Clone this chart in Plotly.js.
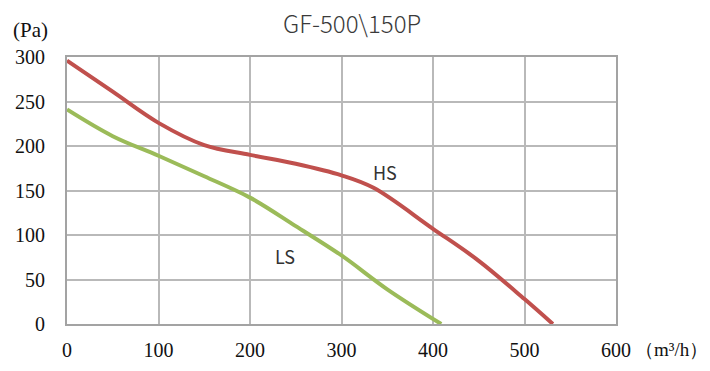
<!DOCTYPE html>
<html><head><meta charset="utf-8">
<script src="https://cdn.plot.ly/plotly-3.0.1.min.js"></script>
<style>html,body{margin:0;padding:0;background:#fff}#c{width:710px;height:371px}</style>
</head><body><div id="c"></div>
<script>
const hsX = [0, 50, 100, 150, 200, 250, 300, 335, 400, 450, 500, 531];
const hsY = [296, 261, 226, 201, 190, 180, 167, 153, 107, 71, 28, 0];
const lsX = [0, 50, 100, 150, 200, 250, 300, 350, 409];
const lsY = [241, 211, 189, 166, 142, 110, 77, 39, 0];
const xTicks = [0, 100, 200, 300, 400, 500, 600];
const yTicks = [0, 50, 100, 150, 200, 250, 300];

const serif = "Times New Roman, Liberation Serif, Tinos, DejaVu Serif, serif";
const sans = "Noto Sans CJK SC, Noto Sans, sans-serif";
const data = [
  {x: hsX, y: hsY, mode: 'lines', line: {color: '#c0504d', width: 4, shape: 'spline', smoothing: 1}, name: 'HS'},
  {x: lsX, y: lsY, mode: 'lines', line: {color: '#9bbb59', width: 4, shape: 'spline', smoothing: 1}, name: 'LS'}
];
const layout = {
  width: 710, height: 371,
  margin: {l: 67, r: 94, t: 57, b: 47},
  showlegend: false,
  paper_bgcolor: '#fff', plot_bgcolor: '#fff',
  title: {text: 'GF-500\\150P', x: 0.496, xanchor: 'center', y: 0.935, yanchor: 'middle',
          font: {family: sans, size: 24, weight: 300, color: '#3a3a3a'}},
  xaxis: {range: [0, 600], tickvals: xTicks, ticktext: xTicks.map(String), showgrid: true,
          gridcolor: '#b9b9b9', gridwidth: 2, zeroline: false, showline: true, linecolor: '#a3a3a3', linewidth: 2,
          mirror: true, ticks: '', tickfont: {family: serif, size: 20, color: '#111'}, ticklabelstandoff: 7},
  yaxis: {range: [0, 300], tickvals: yTicks, ticktext: yTicks.map(String), showgrid: true,
          gridcolor: '#b9b9b9', gridwidth: 2, zeroline: false, showline: true, linecolor: '#a3a3a3', linewidth: 2,
          mirror: true, ticks: '', tickfont: {family: serif, size: 20, color: '#111'}, ticklabelstandoff: 16},
  annotations: [
    {text: 'HS', x: 348, y: 171, xref: 'x', yref: 'y', showarrow: false, xanchor: 'center', yanchor: 'middle',
     font: {family: sans, size: 18, color: '#333'}},
    {text: 'LS', x: 238, y: 76, xref: 'x', yref: 'y', showarrow: false, xanchor: 'center', yanchor: 'middle',
     font: {family: sans, size: 18, color: '#333'}},
    {text: '(Pa)', x: 30, y: 30, xref: 'paper', yref: 'paper', showarrow: false, xanchor: 'center', yanchor: 'middle',
     font: {family: serif, size: 21, color: '#111'}},
    {text: '（m³/h）', x: 633, y: 349, xref: 'paper', yref: 'paper', showarrow: false, xanchor: 'left', yanchor: 'middle',
     font: {family: serif, size: 19, color: '#111'}}
  ]
};
layout.annotations.forEach(a => {
  if (a.xref === 'paper') {
    const pw = 710 - 67 - 94, ph = 371 - 57 - 47;
    a.x = (a.x - 67) / pw;
    a.y = (371 - 47 - a.y) / ph;
  }
});
Plotly.newPlot('c', data, layout, {displayModeBar: false, staticPlot: true});
</script></body></html>
